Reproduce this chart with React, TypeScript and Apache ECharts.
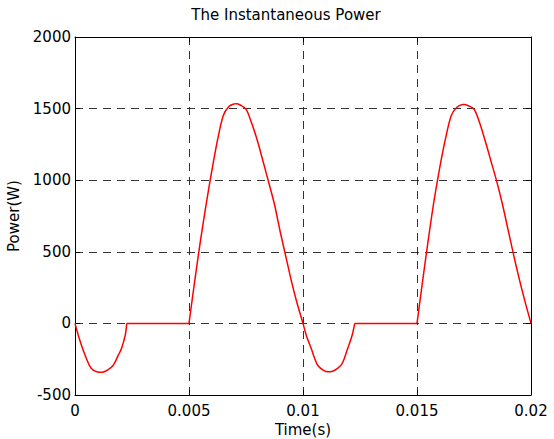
import React, { useEffect, useRef } from "react";
import * as echarts from "echarts";

const titleText = "The Instantaneous Power";
const xName = "Time(s)";
const yName = "Power(W)";

const xTicks = [0, 0.005, 0.01, 0.015, 0.02];
const yTicks = [-500, 0, 500, 1000, 1500, 2000];

const timeS = [
  0, 0.00015, 0.00034, 0.0005, 0.00064, 0.0008, 0.001, 0.00112, 0.00125, 0.0014, 0.00166, 0.0019, 0.00203, 0.0022, 0.00227,
  0.005, 0.00525, 0.0055, 0.00575, 0.006, 0.00625, 0.0065, 0.00675, 0.007, 0.00707, 0.00725, 0.0075, 0.00775, 0.008,
  0.00825, 0.0085, 0.00875, 0.009, 0.00925, 0.0095, 0.00975, 0.01,
  0.01015, 0.01037, 0.0105, 0.01066, 0.0109, 0.01109, 0.0113, 0.0115, 0.01168, 0.0118, 0.01195, 0.01215, 0.01227,
  0.015, 0.01525, 0.0155, 0.01575, 0.016, 0.01625, 0.0165, 0.01675, 0.017, 0.01709, 0.01725, 0.0175, 0.01775, 0.018,
  0.01825, 0.0185, 0.01875, 0.019, 0.01925, 0.0195, 0.01975, 0.02,
];

const powerW = [
  0, -86, -179, -245, -296, -326, -340, -342, -339, -328, -296, -222, -179, -86, 0,
  0, 295, 575, 830, 1065, 1280, 1450, 1515, 1533, 1534, 1525, 1496, 1398, 1276,
  1131, 982, 830, 640, 465, 290, 135, 0,
  -86, -179, -240, -296, -328, -338, -334, -316, -290, -250, -179, -86, 0,
  0, 300, 590, 860, 1090, 1290, 1450, 1510, 1528, 1529, 1520, 1497, 1400, 1270,
  1130, 990, 830, 650, 470, 300, 145, 0,
];

const FONT = "DejaVu Sans";

// split the trace so that flat (zero) runs stay straight with sharp corners
function buildSegments() {
  const out: any[] = [];
  for (let i = 0; i < timeS.length; i++) {
    out.push([timeS[i], powerW[i]]);
    if (i < timeS.length - 1 && powerW[i] === 0 && powerW[i + 1] === 0) {
      out.push([timeS[i], "-"]);
      out.push([timeS[i], powerW[i]]);
      out.push([timeS[i + 1], powerW[i + 1]]);
      out.push([timeS[i + 1], "-"]);
    }
  }
  return out;
}

export default function App() {
  const ref = useRef<HTMLDivElement>(null);

  useEffect(() => {
    if (!ref.current) return;
    const chart = echarts.init(ref.current, undefined, { renderer: "svg" });
    const xMin = xTicks[0];
    const xMax = xTicks[xTicks.length - 1];
    const xInt = xTicks[1] - xTicks[0];
    const yMin = yTicks[0];
    const yMax = yTicks[yTicks.length - 1];
    const yInt = yTicks[1] - yTicks[0];
    const axisLine = { show: true, onZero: false, lineStyle: { color: "#000", width: 1 } };
    const tick = { show: true, inside: true, length: 5, lineStyle: { color: "#000", width: 1 } };
    const grid = { show: true, lineStyle: { color: "#333", width: 1, type: [8, 6] as any } };
    const fmt = (v: number) => String(v);

    chart.setOption({
      animation: false,
      backgroundColor: "#ffffff",
      textStyle: { fontFamily: FONT },
      grid: { left: 75, top: 37, width: 456, height: 358, containLabel: false, outerBoundsMode: "none" },
      graphic: [
        {
          type: "text",
          x: 286,
          y: 15,
          style: {
            text: titleText,
            fill: "#000",
            fontSize: 15,
            fontFamily: FONT,
            textAlign: "center",
            textVerticalAlign: "middle",
            verticalAlign: "middle",
          },
        },
      ],
      xAxis: [
        {
          type: "value",
          position: "bottom",
          min: xMin,
          max: xMax,
          interval: xInt,
          axisLine,
          axisTick: tick,
          axisLabel: { color: "#000", fontSize: 15, fontFamily: FONT, margin: 8, formatter: fmt },
          splitLine: grid,
          name: xName,
          nameLocation: "middle",
          nameGap: 26,
          nameTextStyle: { color: "#000", fontSize: 15, fontFamily: FONT },
        },
        {
          type: "value",
          position: "top",
          min: xMin,
          max: xMax,
          interval: xInt,
          axisLine,
          axisTick: tick,
          axisLabel: { show: false },
          splitLine: { show: false },
        },
      ],
      yAxis: [
        {
          type: "value",
          position: "left",
          min: yMin,
          max: yMax,
          interval: yInt,
          axisLine,
          axisTick: tick,
          axisLabel: { color: "#000", fontSize: 15, fontFamily: FONT, margin: 4, formatter: fmt },
          splitLine: grid,
          name: yName,
          nameLocation: "middle",
          nameGap: 46,
          nameTextStyle: { color: "#000", fontSize: 15, fontFamily: FONT },
        },
        {
          type: "value",
          position: "right",
          min: yMin,
          max: yMax,
          interval: yInt,
          axisLine,
          axisTick: tick,
          axisLabel: { show: false },
          splitLine: { show: false },
        },
      ],
      series: [
        {
          type: "line",
          xAxisIndex: 0,
          yAxisIndex: 0,
          data: buildSegments(),
          connectNulls: false,
          showSymbol: false,
          symbol: "none",
          smooth: 0.3,
          lineStyle: { color: "#ff0000", width: 1.5 },
          itemStyle: { color: "#ff0000" },
          z: 5,
        },
      ],
    });
    return () => chart.dispose();
  }, []);

  return (
    <div
      ref={ref}
      style={{ position: "absolute", left: 0, top: 0, width: 554, height: 439, background: "#fff" }}
    />
  );
}
